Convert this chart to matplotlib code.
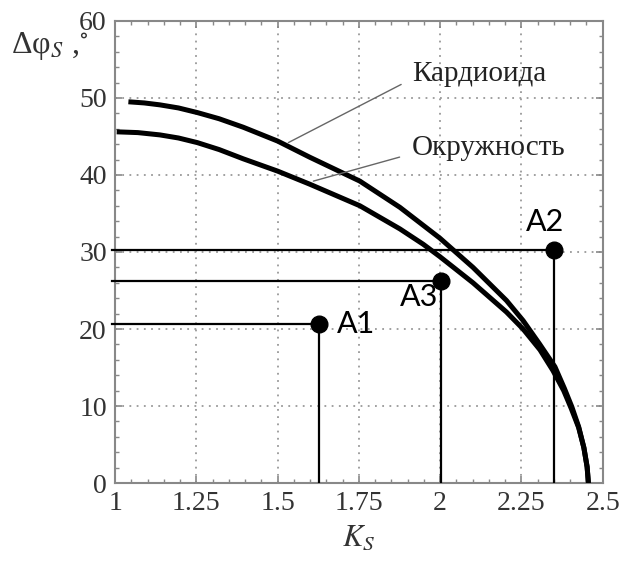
import numpy as np
import matplotlib
matplotlib.use("Agg")
import matplotlib.pyplot as plt
from matplotlib.ticker import MultipleLocator

plt.rcParams['font.family'] = ['Liberation Serif', 'DejaVu Serif']
plt.rcParams['mathtext.fontset'] = 'stix'

# curves
kard_x = [1.041, 1.09, 1.138, 1.195, 1.253, 1.32, 1.394, 1.50, 1.599, 1.753, 1.876, 1.999,
          2.101, 2.204, 2.255, 2.305, 2.353, 2.382, 2.405, 2.426, 2.442, 2.452, 2.456]
kard_y = [49.5, 49.35, 49.1, 48.7, 48.1, 47.3, 46.2, 44.4, 42.3, 39.2, 35.8, 31.8,
          28.0, 23.7, 21.1, 18.1, 15.1, 12.3, 9.9, 7.3, 4.6, 2.1, 0.0]

okr_x = [1.005, 1.07, 1.138, 1.195, 1.253, 1.32, 1.394, 1.50, 1.599, 1.753, 1.876, 1.948,
         1.999, 2.101, 2.204, 2.255, 2.307, 2.347, 2.38, 2.403, 2.426, 2.442, 2.452, 2.456]
okr_y = [45.6, 45.5, 45.2, 44.8, 44.2, 43.3, 42.1, 40.5, 38.8, 36.0, 33.0, 31.0,
         29.4, 26.0, 22.2, 20.0, 17.3, 14.6, 12.0, 9.7, 7.2, 4.6, 2.1, 0.0]

# operating points
pt_names = ['A1', 'A2', 'A3']
pt_x = [1.628, 2.351, 2.002]
pt_y = [20.6, 30.3, 26.2]

x_ticks = [1, 1.25, 1.5, 1.75, 2, 2.25, 2.5]
x_ticklabels = ['1', '1.25', '1.5', '1.75', '2', '2.25', '2.5']
y_ticks = [0, 10, 20, 30, 40, 50, 60]

fig = plt.figure(figsize=(6.22, 5.65), dpi=100)
ax = fig.add_axes([0.185, 0.145, 0.784, 0.818])

ax.set_xlim(1, 2.5)
ax.set_ylim(0, 60)

ax.grid(True, which='major', color='#999999', linestyle=(0, (1, 3)), linewidth=1.3)
ax.set_axisbelow(True)

ax.plot(kard_x, kard_y, color='black', lw=3.6, solid_capstyle='butt',
        solid_joinstyle='round', zorder=3)
ax.plot(okr_x, okr_y, color='black', lw=3.6, solid_capstyle='butt',
        solid_joinstyle='round', zorder=3)

for name, x, y in zip(pt_names, pt_x, pt_y):
    ax.plot([0.99, x], [y, y], color='black', lw=1.6, clip_on=False, zorder=4)
    ax.plot([x, x], [y, 0], color='black', lw=1.6, zorder=4)
    ax.plot(x, y, 'o', color='black', ms=12, zorder=5)

lbl_kw = dict(family=['Lato', 'DejaVu Sans'], fontsize=22, color='black')
ax.annotate('A1', (pt_x[0], pt_y[0]), xytext=(13, 0), textcoords='offset points',
            ha='left', va='center', **lbl_kw)
ax.annotate('A2', (pt_x[1], pt_y[1]), xytext=(-7, 10), textcoords='offset points',
            ha='center', va='bottom', **lbl_kw)
ax.annotate('A3', (pt_x[2], pt_y[2]), xytext=(-16, -11), textcoords='offset points',
            ha='center', va='center', **lbl_kw)

# curve captions with leader lines
ax.annotate('Кардиоида', xy=(1.533, 44.2), xytext=(1.913, 53.1),
            fontsize=21, color='#222222', ha='left', va='center',
            arrowprops=dict(arrowstyle='-', color='#666666', lw=1.0,
                            shrinkA=0, shrinkB=0, relpos=(-0.08, 0.1)))
ax.annotate('Окружность', xy=(1.61, 39.2), xytext=(1.913, 43.5),
            fontsize=21, color='#222222', ha='left', va='center',
            arrowprops=dict(arrowstyle='-', color='#666666', lw=1.0,
                            shrinkA=0, shrinkB=0, relpos=(-0.08, 0.15)))

ax.set_xticks(x_ticks)
ax.set_xticklabels(x_ticklabels)
ax.set_yticks(y_ticks)
ax.xaxis.set_minor_locator(MultipleLocator(0.05))
ax.yaxis.set_minor_locator(MultipleLocator(2))
ax.tick_params(which='both', direction='in', top=True, right=True, color='#888888')
ax.tick_params(which='major', length=5, width=1.2, labelsize=20, labelcolor='#333333', pad=6)
ax.tick_params(which='minor', length=3, width=1.0)

for s in ax.spines.values():
    s.set_color('#888888')
    s.set_linewidth(1.5)

ax.set_xlabel('$K_S$', fontsize=22, color='#333333', labelpad=5)
fig.text(0.018, 0.918, r'Δφ$_S$ ,$^{\circ}$', fontsize=23, color='#333333',
         ha='left', va='center')

fig.savefig('out.png', dpi=100)
